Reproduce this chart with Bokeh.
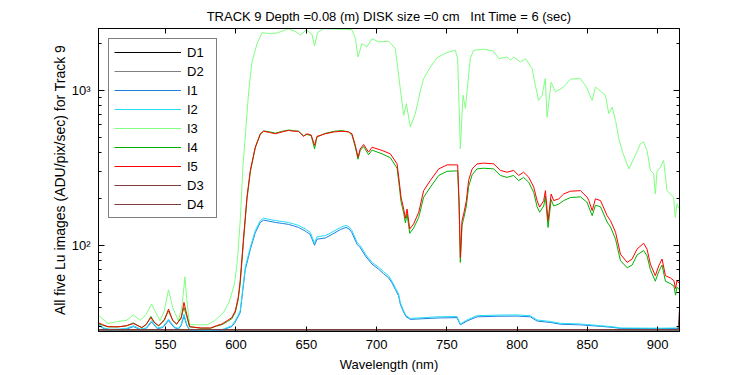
from bokeh.plotting import figure
from bokeh.models import Range1d, FixedTicker, LogAxis, LinearAxis, Legend, LegendItem
from bokeh.embed import file_html
from bokeh.resources import INLINE

FONT = "Liberation Sans"

# ---------------- data ----------------
wl_D = [502, 550, 600, 650, 700, 750, 800, 850, 900, 914.5, 915.5]
D1 = [28.6, 28.6, 28.6, 28.6, 28.6, 28.6, 28.6, 28.6, 28.6, 28.6, 28.7]
D2 = [28.7, 28.7, 28.7, 28.7, 28.7, 28.7, 28.7, 28.7, 28.7, 28.7, 28.9]
D3 = [28.8, 28.8, 28.8, 28.8, 28.8, 28.8, 28.8, 28.8, 28.8, 28.8, 30.0]
D4 = [28.8, 28.8, 28.8, 28.8, 28.8, 28.8, 28.8, 28.8, 28.8, 28.8, 39.0]

wl_I12 = [502, 506, 510, 516, 522, 527, 532, 536, 540, 544,
          548, 552, 556, 559, 561, 563, 565, 567, 580, 590,
          597, 599.5, 603, 606.6, 610.2, 613.7, 617.3, 619.6, 623, 628,
          633, 637.4, 641, 644.5, 649.3, 652.8, 655.9, 657.6, 663.5, 668.3,
          674.3, 678.3, 680.5, 682.5, 686.1, 688.4, 692, 696.8, 701.5, 705,
          708.6, 711, 713.3, 715.7, 716.9, 719.3, 721, 724, 743, 757.2,
          759.6, 764.3, 771.4, 785.7, 799.9, 809.4, 814.2, 823.7, 830.8, 845,
          860, 868.7, 873.5, 900, 915.5]
I1 = [30.8, 29.2, 28.8, 28.8, 29.0, 30.1, 28.8, 29.2, 32.3, 29.2,
      29.7, 32.9, 29.7, 29.0, 30.6, 35.3, 30.6, 28.6, 28.5, 28.6,
      30.1, 32.2, 37.0, 70.0, 94.5, 121, 141, 146, 144, 141,
      139, 137, 134, 131, 124, 118, 100.5, 110, 112, 118,
      127, 131, 128, 121, 102, 97, 86, 76, 70.5, 66,
      62, 57.5, 52.3, 47.5, 42, 37.2, 34.9, 33.5, 34.2, 34.4,
      30.9, 32.7, 34.8, 35.1, 35.2, 34.8, 32.7, 32.0, 31.2, 30.9,
      30.2, 29.7, 29.3, 29.2, 29.3]
I2 = [31.3, 29.5, 29.0, 29.0, 29.3, 30.5, 29.0, 29.5, 32.9, 29.5,
      30.0, 33.6, 30.0, 29.3, 31.0, 36.2, 31.0, 28.8, 28.6, 28.8,
      30.5, 32.9, 38.0, 72.5, 97.5, 125, 145, 150, 148, 145,
      143, 141, 138, 135, 128, 122, 103.5, 114, 116, 122,
      131, 135, 132, 125, 105, 100, 88.4, 78, 72.5, 68,
      64, 59, 53.8, 48.8, 43, 38, 35.5, 34, 34.8, 35,
      31.3, 33.2, 35.4, 35.7, 35.8, 35.4, 33.2, 32.5, 31.6, 31.3,
      30.5, 30.0, 29.5, 29.4, 29.5]

wl_I3 = [502, 509, 516, 522, 527, 532, 536, 540, 543, 546,
         549, 552, 555, 559, 561.5, 563.7, 565, 567, 575, 580,
         585, 591, 595, 599, 601, 603, 605, 607, 609, 611.4,
         615, 618.5, 625, 630, 637, 642, 646, 650, 654, 655.9,
         658, 662, 670, 678, 682.5, 684.9, 686.8, 689.6, 693, 696.8,
         701.5, 708.6, 713.3, 715.7, 717, 719.3, 721.2, 724, 727.6, 731,
         733.5, 738.3, 743, 750, 756, 757.7, 759.6, 761.5, 763.2, 765.5,
         766.7, 769, 776, 783, 787, 792.8, 795.2, 797.5, 802.3, 806,
         810.6, 813, 815.3, 817.8, 820, 821.3, 824.2, 827.2, 833, 838,
         845, 849.3, 853.4, 855.7, 862.8, 865.2, 867.6, 870, 872.3, 875,
         879.5, 884, 887.7, 890, 892.4, 894.8, 897.1, 898.3, 899.5, 901.9,
         904.2, 906.6, 911.3, 912.5, 913.7, 915.5]
I3 = [35.7, 31.5, 32.5, 33, 35.8, 33, 36, 42.1, 37, 32.8,
      38, 52, 40, 32.8, 40, 63, 45, 31, 30.9, 31,
      33, 37, 43, 57, 80, 144, 330, 560, 977, 1520,
      2000, 2350, 2310, 2350, 2490, 2400, 2270, 2450, 2300, 1930,
      2350, 2490, 2480, 2470, 2450, 2160, 1640, 2000, 1900, 2150,
      2050, 2070, 1860, 1250, 1000, 690, 820, 580, 710, 977,
      1190, 1410, 1620, 1750, 1810, 1600, 420, 930, 765, 1250,
      1600, 1810, 1840, 1790, 1600, 1640, 1560, 1640, 1520, 1600,
      1380, 1070, 860, 930, 1190, 670, 1130, 977, 1050, 1180,
      1190, 1050, 860, 1050, 930, 707, 780, 640, 490, 400,
      312, 380, 453, 465, 410, 305, 290, 215, 300, 320,
      354, 226, 205, 152, 186, 170]

wl_I45 = [502, 505, 509, 516, 522, 527, 533, 536, 539.5, 542,
          545, 549, 552, 555, 557.7, 561, 563, 565, 567, 575,
          582, 586, 590, 594, 597, 599.5, 601.6, 603, 605.4, 607.8,
          610.2, 613.7, 617.3, 619.6, 624, 628, 633, 637.4, 641, 644.5,
          648, 650.5, 653.5, 655.9, 657.6, 663.5, 670, 675.4, 680, 682.5,
          684.9, 686.8, 688.4, 690.8, 694.3, 696.8, 703.9, 709.8, 714.6, 716.2,
          717.4, 719.3, 720.5, 721.7, 723.6, 726.4, 730, 733.5, 738.3, 744.2,
          750.2, 757.7, 758.7, 759.6, 760.8, 762, 763.9, 765.5, 768, 771.5,
          776.2, 783.3, 788.1, 792.8, 797.5, 801.1, 804.6, 808.2, 811.8, 814.2,
          816, 818.9, 820.1, 822, 824.2, 826, 829.6, 833.1, 837.9, 845,
          849.8, 851, 853.4, 855.7, 859.3, 864, 866.4, 870, 873.5, 878.3,
          881.8, 885.3, 890, 892.4, 894.8, 898.3, 900.7, 903.1, 905.5, 909,
          911.5, 912.7, 913.7, 915.5]
I4 = [31.5, 30.8, 30.0, 30.0, 30.4, 31.8, 29.6, 31, 35, 32,
      30.4, 33.5, 38, 33, 31.2, 34.5, 40, 35, 30.0, 29.4,
      29.4, 30.3, 31.0, 32.5, 33.8, 37, 45, 57, 108, 198,
      298, 425, 520, 548, 540, 530, 545, 555, 550, 545,
      510, 520, 510, 420, 500, 528, 545, 550, 540, 515,
      430, 360, 410, 435, 385, 412, 390, 368, 315, 240,
      192, 162, 140, 160, 120, 130, 152, 205, 238, 283,
      301, 303, 180, 78, 135, 150, 180, 240, 286, 312,
      315, 312, 283, 275, 283, 262, 275, 256, 220, 178,
      164, 180, 208, 131, 198, 180, 185, 195, 204, 206,
      190, 177, 156, 182, 178, 142, 132, 110, 80, 72,
      75, 87, 93, 86, 70, 59, 68, 75, 59, 57,
      55, 48, 54, 52]
I5 = [32, 31, 30.1, 30, 30.5, 31.5, 29.7, 31, 34.4, 32,
      30.5, 33, 39, 33, 31.3, 34, 43.1, 36, 30.1, 29.5,
      29.5, 30.5, 31.3, 33, 34.4, 38, 46.4, 59.5, 113, 205,
      305, 430, 525, 545, 535, 525, 540, 552, 545, 545,
      505, 525, 515, 442, 505, 525, 540, 545, 540, 525,
      442, 371, 420, 448, 400, 430, 410, 390, 336, 256,
      205, 172, 150, 172, 128, 138, 164, 226, 263, 312,
      331, 331, 195, 84, 145, 160, 195, 263, 312, 336,
      340, 336, 305, 297, 305, 283, 297, 276, 238, 195,
      177, 195, 226, 145, 215, 195, 200, 215, 224, 226,
      205, 195, 168, 200, 195, 156, 145, 122, 88, 78,
      82, 95, 103.5, 95, 76, 64, 74, 82, 64, 62,
      59.5, 53, 59.5, 57]

x_ticks = [550, 600, 650, 700, 750, 800, 850, 900]
y_major = [100, 1000]
y_minor = [30, 40, 50, 60, 70, 80, 90, 200, 300, 400, 500, 600, 700, 800, 900, 2000]
y_labels = {100: "10\u00b2", 1000: "10\u00b3"}

title_txt = "TRACK 9 Depth =0.08 (m) DISK size =0 cm \u00a0\u00a0Int Time = 6 (sec)"
xlabel = "Wavelength (nm)"
ylabel = "All five Lu images (ADU/pix/sec) for Track 9"

series = [
    ("D1", wl_D, D1, "#000000"),
    ("D2", wl_D, D2, "#808080"),
    ("I1", wl_I12, I1, "#1E7FE0"),
    ("I2", wl_I12, I2, "#22DDF5"),
    ("I3", wl_I3, I3, "#80FF80"),
    ("I4", wl_I45, I4, "#00B000"),
    ("I5", wl_I45, I5, "#FF0000"),
    ("D3", wl_D, D3, "#7F3F3F"),
    ("D4", wl_D, D4, "#7F3F3F"),
]

# ---------------- figure ----------------
p = figure(width=750, height=375, output_backend="svg", toolbar_location=None,
           y_axis_type="log", x_range=Range1d(502.2, 915.5), y_range=Range1d(28, 2500),
           min_border_left=98, min_border_right=71, min_border_top=28, min_border_bottom=44)
p.background_fill_color = "white"
p.border_fill_color = "white"
p.outline_line_color = "black"
p.outline_line_alpha = 1
p.xgrid.visible = False
p.ygrid.visible = False

p.title.text = title_txt
p.title.text_font = FONT
p.title.text_font_size = "13px"
p.title.text_font_style = "normal"
p.title.text_color = "black"
p.title.align = "center"

items = []
for name, xs, ys, col in series:
    r = p.line(xs, ys, line_color=col, line_width=1)
    items.append(LegendItem(label=name, renderers=[r]))

def style(ax, labels=True):
    ax.axis_line_color = "black"
    ax.major_tick_line_color = "black"
    ax.minor_tick_line_color = "black"
    ax.major_tick_in = 6
    ax.major_tick_out = 0
    ax.minor_tick_in = 3
    ax.minor_tick_out = 0
    ax.major_label_text_font = FONT
    ax.major_label_text_font_size = "13px" if labels else "1px"
    ax.major_label_text_color = "black"
    if not labels:
        ax.major_label_text_alpha = 0
    ax.axis_label_text_font = FONT
    ax.axis_label_text_font_size = "13px"
    ax.axis_label_text_font_style = "normal"
    ax.axis_label_text_color = "black"

xax = p.xaxis[0]
xax.ticker = FixedTicker(ticks=x_ticks)
xax.axis_label = xlabel
style(xax)
xax.major_tick_in = 5
xax.major_label_standoff = 8
xax.axis_label_standoff = 5

yax = p.yaxis[0]
yax.ticker = FixedTicker(ticks=y_major, minor_ticks=y_minor)
yax.major_label_overrides = y_labels
yax.axis_label = ylabel
style(yax)
yax.axis_label_text_font_size = "14px"
yax.major_label_standoff = 8
yax.axis_label_standoff = 1

top = LinearAxis(ticker=FixedTicker(ticks=x_ticks))
style(top, labels=False)
top.major_tick_in = 5
top.major_label_standoff = 0
p.add_layout(top, "above")

right = LogAxis(ticker=FixedTicker(ticks=y_major, minor_ticks=y_minor))
style(right, labels=False)
right.major_label_standoff = 0
p.add_layout(right, "right")

legend = Legend(items=items, location="top_left", margin=10, padding=5, spacing=3,
                glyph_width=67, glyph_height=16, label_height=16, label_standoff=6,
                label_width=24, border_line_color="black", border_line_width=1,
                background_fill_color="white", background_fill_alpha=1,
                label_text_font=FONT, label_text_font_size="13px", label_text_color="black")
p.add_layout(legend)

open("out.html", "w").write(file_html(p, INLINE))
